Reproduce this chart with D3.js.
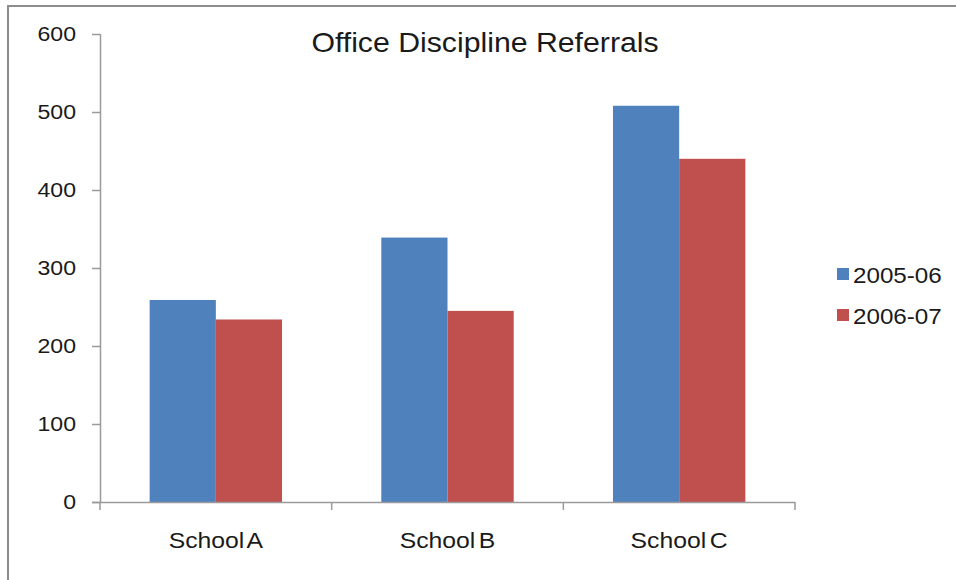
<!DOCTYPE html>
<html>
<head>
<meta charset="utf-8">
<script src="https://cdn.jsdelivr.net/npm/d3@7"></script>
<style>
  html, body { margin: 0; padding: 0; background: #fff; }
  svg { display: block; }
  text { font-family: "Liberation Sans", Arial, sans-serif; fill: #1a1a1a; }
</style>
</head>
<body>
<svg id="chart" width="956" height="580"></svg>
<script>
// Office discipline referrals per school, two school years
const schools = ["School A", "School B", "School C"];
const years = ["2005-06", "2006-07"];
const referrals2005 = [259, 339, 508];
const referrals2006 = [234, 245, 440];
const yTicks = [0, 100, 200, 300, 400, 500, 600];
const colors = ["#4f81bd", "#c0504d"];

const seriesValues = [referrals2005, referrals2006];

const svg = d3.select("#chart");
const W = 956, H = 580;
const plot = { left: 100, right: 795, top: 34, bottom: 502 };
const stretch = 1.1; // slightly wide lettering

// Outer frame (top and left edges visible)
svg.append("rect").attr("x", 0).attr("y", 0).attr("width", W).attr("height", H).attr("fill", "#fff");
svg.append("line").attr("x1", 7).attr("x2", W).attr("y1", 6).attr("y2", 6)
  .attr("stroke", "#8c8c8c").attr("stroke-width", 2);
svg.append("line").attr("x1", 8).attr("x2", 8).attr("y1", 6).attr("y2", H)
  .attr("stroke", "#8c8c8c").attr("stroke-width", 2);

const x0 = d3.scaleBand().domain(schools).range([plot.left, plot.right]).paddingInner(0).paddingOuter(0);
const x1 = d3.scaleBand().domain(years).range([0, x0.bandwidth()]).paddingInner(0).paddingOuter(0.75);
const y = d3.scaleLinear().domain([0, 600]).range([plot.bottom, plot.top]);

// Bars
const groups = svg.append("g").selectAll("g").data(schools).join("g")
  .attr("transform", d => `translate(${x0(d)},0)`);
groups.selectAll("rect")
  .data((d, i) => years.map((yr, k) => ({ yr, k, v: seriesValues[k][i] })))
  .join("rect")
  .attr("x", d => x1(d.yr))
  .attr("width", x1.bandwidth())
  .attr("y", d => y(d.v))
  .attr("height", d => y(0) - y(d.v))
  .attr("fill", d => colors[d.k]);

// Y axis
const tickPad = 24;
const yAxis = svg.append("g").attr("transform", `translate(${plot.left},0)`)
  .call(d3.axisLeft(y).tickValues(yTicks).tickSize(8).tickPadding(tickPad).tickFormat(d3.format("d")));
yAxis.select(".domain").attr("stroke", "#9a9a9a").attr("stroke-width", 1.5)
  .attr("d", `M0.5,${plot.top}V${plot.bottom}`);
yAxis.selectAll(".tick line").attr("stroke", "#9a9a9a").attr("stroke-width", 1.5);
yAxis.selectAll(".tick text").attr("font-size", 21).attr("fill", "#1a1a1a")
  .style("font-family", "'Liberation Sans', Arial, sans-serif")
  .attr("x", -tickPad / stretch)
  .attr("transform", `scale(${stretch},1)`);

// X axis with ticks at category boundaries
const xAxis = svg.append("g").attr("transform", `translate(0,${plot.bottom})`);
xAxis.append("line").attr("x1", plot.left - 8).attr("x2", plot.right).attr("y1", 0.5).attr("y2", 0.5)
  .attr("stroke", "#9a9a9a").attr("stroke-width", 1.5);
const boundaries = schools.map(s => x0(s)).concat([x0(schools[schools.length - 1]) + x0.bandwidth()]);
xAxis.selectAll("line.b").data(boundaries).join("line").attr("class", "b")
  .attr("x1", d => d).attr("x2", d => d).attr("y1", 0).attr("y2", 8)
  .attr("stroke", "#9a9a9a").attr("stroke-width", 1.5);
xAxis.selectAll("text").data(schools).join("text")
  .attr("transform", d => `translate(${x0(d) + x0.bandwidth() / 2},46) scale(${stretch},1)`)
  .attr("text-anchor", "middle")
  .attr("font-size", 22.5)
  .attr("word-spacing", "-3")
  .text(d => d);

// Title
svg.append("text").attr("transform", `translate(485,52) scale(${stretch},1)`)
  .attr("text-anchor", "middle")
  .attr("font-size", 27.5).text("Office Discipline Referrals");

// Legend
const legend = svg.append("g").attr("transform", "translate(837,268)");
const items = legend.selectAll("g").data(years).join("g")
  .attr("transform", (d, i) => `translate(0,${i * 41})`);
items.append("rect").attr("width", 12).attr("height", 12).attr("fill", (d, i) => colors[i]);
items.append("text").attr("transform", `translate(16,15) scale(${stretch},1)`)
  .attr("font-size", 22).text(d => d);
</script>
</body>
</html>
